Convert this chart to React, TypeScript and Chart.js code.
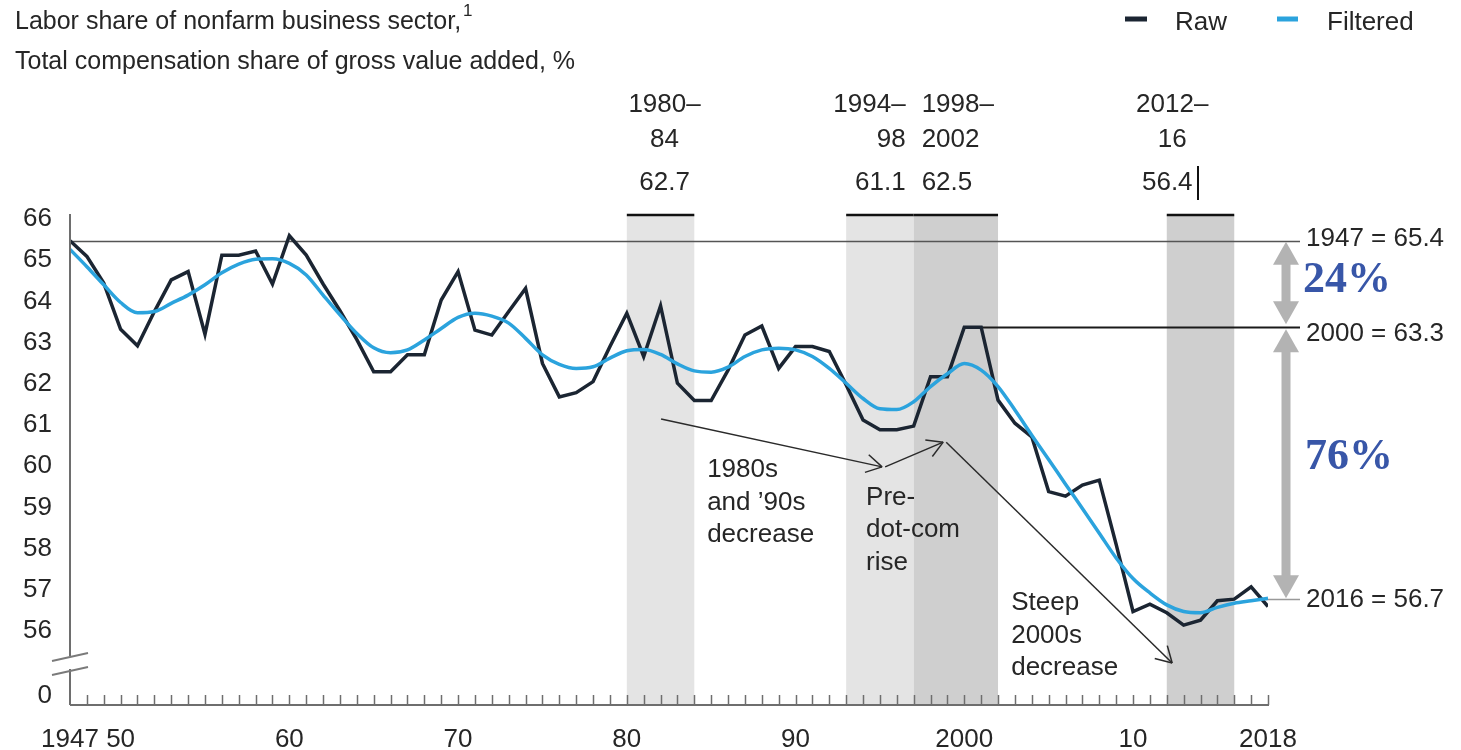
import { useEffect, useRef } from "react";
import { Chart, registerables } from "chart.js";

Chart.register(...registerables);

// ---- data -----------------------------------------------------------------
const FIRST_YEAR = 1947;
const LAST_YEAR = 2018;
const years: number[] = Array.from(
  { length: LAST_YEAR - FIRST_YEAR + 1 },
  (_, i) => FIRST_YEAR + i
);

// Labor share, nonfarm business sector (raw annual series), %
const rawShare: number[] = [
  65.4, 65.02, 64.37, 63.25, 62.85, 63.68, 64.45, 64.65, 63.13, 65.05, // 1947-56
  65.05, 65.15, 64.35, 65.52, 65.05, 64.35, 63.7, 63.0, 62.22, 62.22, // 1957-66
  62.63, 62.63, 63.96, 64.65, 63.23, 63.11, 63.68, 64.24, 62.42, 61.61, // 1967-76
  61.71, 61.98, 62.83, 63.64, 62.59, 63.82, 61.94, 61.52, 61.52, 62.26, // 1977-86
  63.11, 63.33, 62.3, 62.83, 62.83, 62.71, 61.9, 61.05, 60.81, 60.81, // 1987-96
  60.9, 62.1, 62.1, 63.3, 63.3, 61.53, 60.97, 60.64, 59.31, 59.2, // 1997-2006
  59.47, 59.59, 58.03, 56.4, 56.58, 56.37, 56.07, 56.19, 56.66, 56.7, // 2007-16
  57.0, 56.52, // 2017-18
];

// Filtered (trend) series, %
const filteredShare: number[] = [
  65.19, 64.77, 64.33, 63.9, 63.65, 63.68, 63.88, 64.08, 64.33, 64.62, // 1947-56
  64.83, 64.95, 64.96, 64.85, 64.57, 64.08, 63.6, 63.15, 62.8, 62.68, // 1957-66
  62.75, 62.99, 63.27, 63.54, 63.64, 63.57, 63.4, 63.03, 62.63, 62.4, // 1967-76
  62.3, 62.34, 62.55, 62.73, 62.76, 62.64, 62.41, 62.24, 62.21, 62.33, // 1977-86
  62.59, 62.75, 62.79, 62.75, 62.59, 62.3, 61.94, 61.57, 61.32, 61.3, // 1987-96
  61.49, 61.86, 62.17, 62.42, 62.26, 61.86, 61.29, 60.68, 60.09, 59.49, // 1997-2006
  58.9, 58.3, 57.7, 57.2, 56.85, 56.56, 56.4, 56.37, 56.5, 56.6, // 2007-16
  56.66, 56.72, // 2017-18
];

const yTickValues = [54.42, 56, 57, 58, 59, 60, 61, 62, 63, 64, 65, 66];
const yTickLabels = ["0", "56", "57", "58", "59", "60", "61", "62", "63", "64", "65", "66"];
const xTickYears = [1947, 1950, 1960, 1970, 1980, 1990, 2000, 2010, 2018];
const xTickLabels = ["1947", "50", "60", "70", "80", "90", "2000", "10", "2018"];

// highlighted periods
const bandStarts = [1980, 1993, 1997, 2012];
const bandEnds = [1984, 1997, 2002, 2016];
const bandNames = [["1980–", "84"], ["1994–", "98"], ["1998–", "2002"], ["2012–", "16"]];
const bandAverages = ["62.7", "61.1", "62.5", "56.4"];

// reference levels
const refYears = [1947, 2000, 2016];
const refValues = [65.4, 63.3, 56.7];
const shareOfDecline = ["24%", "76%"];

// commentary
const notes = [
  ["1980s", "and ’90s", "decrease"],
  ["Pre-", "dot-com", "rise"],
  ["Steep", "2000s", "decrease"],
];
const noteAnchors = [
  [1984.76, 59.83],
  [1994.18, 59.16],
  [2002.78, 56.6],
];
const arrowPaths = [
  [[1982.03, 61.07], [1995.13, 59.91]],
  [[1995.31, 59.91], [1998.75, 60.51]],
  [[1998.93, 60.51], [2012.32, 55.15]],
];

// ---- styling --------------------------------------------------------------
const NAVY = "#1b2532";
const BLUE = "#2ba3dd";
const TEXT = "#262626";
const SANS = '"Liberation Sans", Arial, sans-serif';
const SERIF = '"Liberation Serif", "Times New Roman", serif';

const decor = {
  id: "decor",
  beforeDatasetsDraw(chart: any) {
    const { ctx, chartArea, scales } = chart;
    const x = scales.x;
    const y = scales.y;
    const top = y.getPixelForValue(66) - 1;
    ctx.save();
    // shaded periods
    const shades = ["#e4e4e4", "#e4e4e4", "#cfcfcf", "#cfcfcf"];
    bandStarts.forEach((s, i) => {
      const x0 = x.getPixelForValue(s);
      const x1 = x.getPixelForValue(bandEnds[i]);
      ctx.fillStyle = shades[i];
      ctx.fillRect(x0, top, x1 - x0, chartArea.bottom - top);
    });
    bandStarts.forEach((s, i) => {
      const x0 = x.getPixelForValue(s);
      const x1 = x.getPixelForValue(bandEnds[i]);
      ctx.strokeStyle = "#111";
      ctx.lineWidth = 2.5;
      ctx.beginPath();
      ctx.moveTo(x0, top);
      ctx.lineTo(x1, top);
      ctx.stroke();
    });
    // reference levels
    const refStarts = [x.getPixelForValue(refYears[0]), x.getPixelForValue(2001), x.getPixelForValue(LAST_YEAR) - 2];
    const refColors = ["#555", "#1a1a1a", "#999"];
    const refWidths = [1.5, 2, 1.5];
    refValues.forEach((v, i) => {
      const py = Math.round(y.getPixelForValue(v)) + 0.5;
      ctx.strokeStyle = refColors[i];
      ctx.lineWidth = refWidths[i];
      ctx.beginPath();
      ctx.moveTo(refStarts[i], py);
      ctx.lineTo(1300, py);
      ctx.stroke();
    });
    ctx.restore();
  },
  afterDraw(chart: any) {
    const { ctx, chartArea, scales } = chart;
    const x = scales.x;
    const y = scales.y;
    const left = chartArea.left;
    const bottom = chartArea.bottom;
    ctx.save();

    const text = (s: string, px: number, py: number, align: CanvasTextAlign = "left", font = `26px ${SANS}`, color = TEXT) => {
      ctx.font = font;
      ctx.fillStyle = color;
      ctx.textAlign = align;
      ctx.textBaseline = "middle";
      ctx.fillText(s, px, py);
    };
    const line = (x0: number, y0: number, x1: number, y1: number, color: string, w: number) => {
      ctx.strokeStyle = color;
      ctx.lineWidth = w;
      ctx.beginPath();
      ctx.moveTo(x0, y0);
      ctx.lineTo(x1, y1);
      ctx.stroke();
    };

    // y axis with a break
    const axisTop = y.getPixelForValue(66) - 2;
    line(left, axisTop, left, 656, "#6e6e6e", 2);
    line(left, 669, left, bottom, "#6e6e6e", 2);
    line(52, 661, 88, 653, "#7a7a7a", 2);
    line(52, 675, 88, 667, "#7a7a7a", 2);

    // x axis and yearly ticks
    line(left, bottom, chartArea.right + 1, bottom, "#6e6e6e", 2);
    years.forEach((yr) => {
      if (yr === FIRST_YEAR) return;
      const px = Math.round(x.getPixelForValue(yr)) + 0.5;
      line(px, bottom - 10, px, bottom, "#6e6e6e", 1.5);
    });

    // title block
    text("Labor share of nonfarm business sector,", 15, 22, "left", `25px ${SANS}`);
    ctx.font = `25px ${SANS}`;
    const tw = ctx.measureText("Labor share of nonfarm business sector,").width;
    text("1", 15 + tw + 2, 11, "left", `17px ${SANS}`);
    text("Total compensation share of gross value added, %", 15, 62, "left", `25px ${SANS}`);

    // legend
    line(1125, 19, 1147, 19, NAVY, 5);
    text("Raw", 1175, 23);
    line(1277, 19, 1298, 19, BLUE, 5);
    text("Filtered", 1327, 23);

    // period labels above the bands
    const c0 = (x.getPixelForValue(bandStarts[0]) + x.getPixelForValue(bandEnds[0])) / 2 + 4;
    const r1 = x.getPixelForValue(bandEnds[1]) - 8;
    const l2 = x.getPixelForValue(bandStarts[2]) + 8;
    const c3 = x.getPixelForValue(bandStarts[3]) + 5.5;
    const anchors: [number, CanvasTextAlign][] = [[c0, "center"], [r1, "right"], [l2, "left"], [c3, "center"]];
    anchors.forEach(([ax, al], i) => {
      text(bandNames[i][0], ax, 105, al);
      text(bandNames[i][1], ax, 140, al);
      text(bandAverages[i], i === 3 ? ax - 5 : ax, 183, al);
    });
    line(1198, 166, 1198, 200, "#111", 2);

    // reference labels on the right
    const refLabelY = [239, 334, 600];
    refValues.forEach((v, i) => {
      text(`${refYears[i]} = ${v.toFixed(1)}`, 1306, refLabelY[i]);
    });

    // grey double arrows splitting the decline
    const ax = 1286;
    const drawDouble = (yTop: number, yBot: number) => {
      ctx.fillStyle = "#b3b3b3";
      ctx.fillRect(ax - 4.5, yTop + 20, 9, yBot - yTop - 40);
      ctx.beginPath();
      ctx.moveTo(ax, yTop);
      ctx.lineTo(ax + 13, yTop + 23);
      ctx.lineTo(ax - 13, yTop + 23);
      ctx.closePath();
      ctx.fill();
      ctx.beginPath();
      ctx.moveTo(ax, yBot);
      ctx.lineTo(ax + 13, yBot - 23);
      ctx.lineTo(ax - 13, yBot - 23);
      ctx.closePath();
      ctx.fill();
    };
    const p0 = y.getPixelForValue(refValues[0]);
    const p1 = y.getPixelForValue(refValues[1]);
    const p2 = y.getPixelForValue(refValues[2]);
    drawDouble(p0 + 1, p1 - 3);
    drawDouble(p1 + 2, p2 - 1);
    text(shareOfDecline[0], 1303, 281, "left", `bold 44px ${SERIF}`, "#3856a8");
    text(shareOfDecline[1], 1305, 458, "left", `bold 44px ${SERIF}`, "#3856a8");

    // commentary with arrows
    notes.forEach((lines, i) => {
      const px = x.getPixelForValue(noteAnchors[i][0]);
      const py = y.getPixelForValue(noteAnchors[i][1]);
      lines.forEach((s, k) => text(s, px, py + k * 32.5));
    });
    arrowPaths.forEach(([a, b]) => {
      const x0 = x.getPixelForValue(a[0]);
      const y0 = y.getPixelForValue(a[1]);
      const x1 = x.getPixelForValue(b[0]);
      const y1 = y.getPixelForValue(b[1]);
      line(x0, y0, x1, y1, "#2a2a2a", 1.5);
      const th = Math.atan2(y1 - y0, x1 - x0);
      const len = 18;
      const spread = Math.PI / 6;
      line(x1, y1, x1 - len * Math.cos(th + spread), y1 - len * Math.sin(th + spread), "#2a2a2a", 1.5);
      line(x1, y1, x1 - len * Math.cos(th - spread), y1 - len * Math.sin(th - spread), "#2a2a2a", 1.5);
    });

    ctx.restore();
  },
};

export default function App() {
  const canvasRef = useRef<HTMLCanvasElement>(null);

  useEffect(() => {
    const canvas = canvasRef.current;
    if (!canvas) return;
    const chart = new Chart(canvas, {
      type: "line",
      data: {
        datasets: [
          {
            label: "Filtered",
            data: years.map((yr, i) => ({ x: yr, y: filteredShare[i] })),
            borderColor: BLUE,
            borderWidth: 3.5,
            pointRadius: 0,
            cubicInterpolationMode: "monotone",
            order: 0,
          },
          {
            label: "Raw",
            data: years.map((yr, i) => ({ x: yr, y: rawShare[i] })),
            borderColor: NAVY,
            borderWidth: 3.5,
            pointRadius: 0,
            tension: 0,
            order: 1,
          },
        ],
      },
      options: {
        responsive: false,
        animation: false,
        events: [],
        layout: { padding: { top: 216, right: 193, left: 0, bottom: 0 } },
        plugins: {
          legend: { display: false },
          tooltip: { enabled: false },
        },
        scales: {
          x: {
            type: "linear",
            min: FIRST_YEAR,
            max: LAST_YEAR,
            grid: { display: false, drawTicks: false },
            border: { display: false },
            afterBuildTicks: (s: any) => {
              s.ticks = xTickYears.map((v) => ({ value: v }));
            },
            afterFit: (s: any) => {
              s.height = 45;
            },
            ticks: {
              autoSkip: false,
              maxRotation: 0,
              padding: 19,
              color: TEXT,
              font: { family: SANS, size: 26 },
              callback: (_v: any, i: number) => xTickLabels[i],
            },
          },
          y: {
            type: "linear",
            min: 54.13,
            max: 66,
            grid: { display: false, drawTicks: false },
            border: { display: false },
            afterBuildTicks: (s: any) => {
              s.ticks = yTickValues.map((v) => ({ value: v }));
            },
            afterFit: (s: any) => {
              s.width = 70;
            },
            ticks: {
              autoSkip: false,
              padding: 18,
              labelOffset: 3,
              color: TEXT,
              font: { family: SANS, size: 26 },
              callback: (_v: any, i: number) => yTickLabels[i],
            },
          },
        },
      },
      plugins: [decor],
    } as any);
    return () => chart.destroy();
  }, []);

  return (
    <div style={{ position: "absolute", left: 0, top: 0, width: 1461, height: 750, background: "#fff" }}>
      <canvas ref={canvasRef} width={1461} height={750} style={{ display: "block" }} />
    </div>
  );
}
